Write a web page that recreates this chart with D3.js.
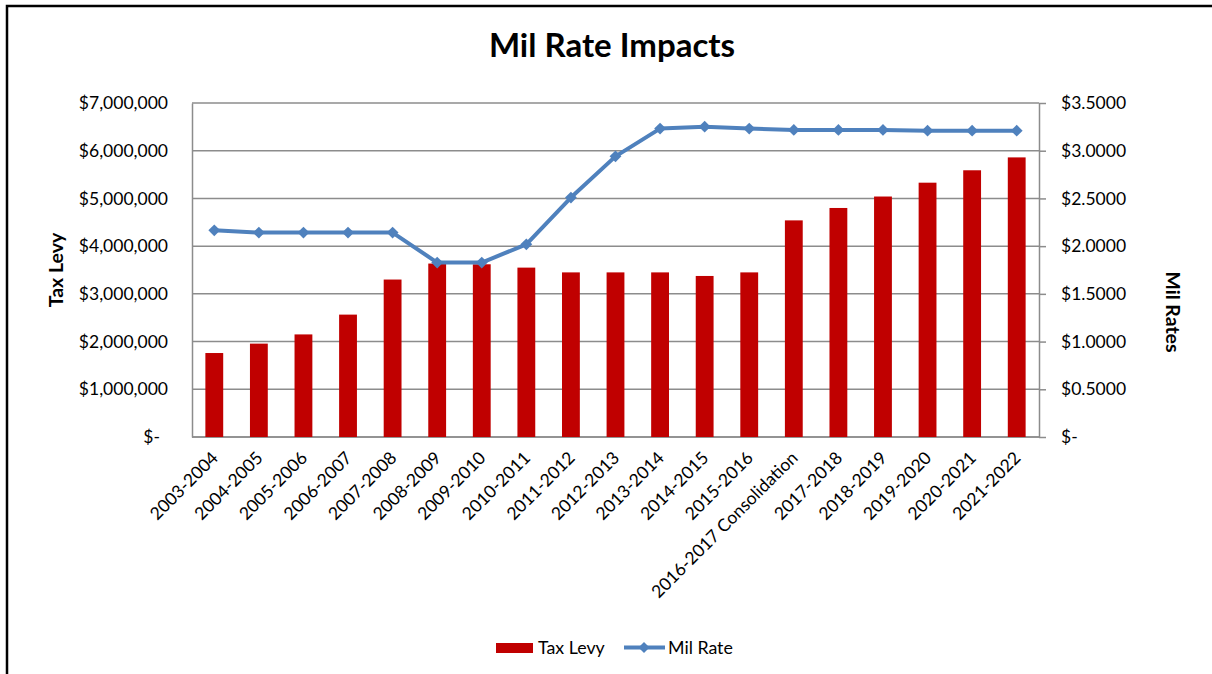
<!DOCTYPE html>
<html>
<head>
<meta charset="utf-8">
<script src="https://cdn.jsdelivr.net/npm/d3@7/dist/d3.min.js"></script>
<style>
  html, body { margin: 0; padding: 0; background: #fff; }
  svg { display: block; }
  text { font-family: Lato, "Open Sans", "Liberation Sans", sans-serif; fill: #000; }
</style>
</head>
<body>
<svg id="chart" width="1212" height="674"></svg>
<script>
// Fiscal years
const categories = [
  "2003-2004", "2004-2005", "2005-2006", "2006-2007", "2007-2008",
  "2008-2009", "2009-2010", "2010-2011", "2011-2012", "2012-2013",
  "2013-2014", "2014-2015", "2015-2016", "2016-2017 Consolidation",
  "2017-2018", "2018-2019", "2019-2020", "2020-2021", "2021-2022"
];

// Tax levy per year (dollars)
const taxLevy = [
  1760000, 1957000, 2150000, 2565000, 3300000,
  3635000, 3620000, 3550000, 3450000, 3450000,
  3450000, 3375000, 3450000, 4540000,
  4800000, 5040000, 5330000, 5590000, 5860000
];

// Mil rate per year (dollars)
const milRate = [
  2.166, 2.142, 2.142, 2.142, 2.142,
  1.828, 1.828, 2.019, 2.509, 2.941,
  3.232, 3.252, 3.232, 3.218,
  3.218, 3.218, 3.210, 3.210, 3.210
];

const levyTicks = [0, 1000000, 2000000, 3000000, 4000000, 5000000, 6000000, 7000000];
const levyTickLabels = ["$-", "$1,000,000", "$2,000,000", "$3,000,000", "$4,000,000", "$5,000,000", "$6,000,000", "$7,000,000"];
const rateTicks = [0, 0.5, 1, 1.5, 2, 2.5, 3, 3.5];
const rateTickLabels = ["$-", "$0.5000", "$1.0000", "$1.5000", "$2.0000", "$2.5000", "$3.0000", "$3.5000"];

const barColor = "#C00000";
const lineColor = "#4F81BD";
const gridColor = "#8C8C8C";
const tickFont = 17.5;

const svg = d3.select("#chart");

// Outer frame
svg.append("rect")
  .attr("x", 7).attr("y", 6)
  .attr("width", 1240).attr("height", 700)
  .attr("fill", "#fff")
  .attr("stroke", "#000")
  .attr("stroke-width", 2.5);

const plot = { left: 192, right: 1039, top: 103, bottom: 437 };

const x = d3.scaleBand()
  .domain(categories)
  .range([plot.left, plot.right])
  .paddingInner(0.6)
  .paddingOuter(0.3);

const yLevy = d3.scaleLinear().domain([0, 7000000]).range([plot.bottom, plot.top]);
const yRate = d3.scaleLinear().domain([0, 3.5]).range([plot.bottom, plot.top]);

// Title
svg.append("text")
  .attr("x", 612).attr("y", 57)
  .attr("text-anchor", "middle")
  .attr("font-size", 33)
  .attr("font-weight", "bold")
  .text("Mil Rate Impacts");

// Gridlines
svg.append("g")
  .selectAll("line")
  .data(levyTicks)
  .join("line")
  .attr("x1", plot.left).attr("x2", plot.right)
  .attr("y1", d => yLevy(d)).attr("y2", d => yLevy(d))
  .attr("stroke", gridColor)
  .attr("stroke-width", 1.5);

// Left axis
const leftAxis = d3.axisLeft(yLevy)
  .tickValues(levyTicks)
  .tickSize(0)
  .tickPadding(24)
  .tickFormat((d, i) => levyTickLabels[i]);
const gl = svg.append("g").attr("transform", `translate(${plot.left},0)`).call(leftAxis);
gl.select(".domain").attr("stroke", gridColor).attr("stroke-width", 1.5);
gl.selectAll(".tick text")
  .attr("font-size", tickFont)
  .attr("font-family", "Lato, 'Open Sans', sans-serif")
  .attr("fill", "#000")
  .attr("dx", d => d === 0 ? -8 : 0);

// Right axis
const rightAxis = d3.axisRight(yRate)
  .tickValues(rateTicks)
  .tickSizeInner(7)
  .tickSizeOuter(0)
  .tickPadding(15)
  .tickFormat((d, i) => rateTickLabels[i]);
const gr = svg.append("g").attr("transform", `translate(${plot.right},0)`).call(rightAxis);
gr.select(".domain").attr("stroke", gridColor).attr("stroke-width", 1.5);
gr.selectAll(".tick line").attr("stroke", gridColor).attr("stroke-width", 1.5);
gr.selectAll(".tick text")
  .attr("font-size", tickFont)
  .attr("font-family", "Lato, 'Open Sans', sans-serif")
  .attr("fill", "#000");

// Bottom axis line
svg.append("line")
  .attr("x1", plot.left).attr("x2", plot.right)
  .attr("y1", plot.bottom).attr("y2", plot.bottom)
  .attr("stroke", gridColor).attr("stroke-width", 1.5);

// Category labels
svg.append("g")
  .selectAll("text")
  .data(categories)
  .join("text")
  .attr("transform", d => `translate(${x(d) + x.bandwidth() / 2 + 5},${plot.bottom + 22}) rotate(-45)`)
  .attr("text-anchor", "end")
  .attr("font-size", tickFont)
  .text(d => d);

// Tax levy bars
svg.append("g")
  .selectAll("rect")
  .data(taxLevy)
  .join("rect")
  .attr("x", (d, i) => x(categories[i]))
  .attr("width", x.bandwidth())
  .attr("y", d => yLevy(d))
  .attr("height", d => plot.bottom - yLevy(d))
  .attr("fill", barColor);

// Mil rate line
const cx = i => x(categories[i]) + x.bandwidth() / 2;
const line = d3.line()
  .x((d, i) => cx(i))
  .y(d => yRate(d));
svg.append("path")
  .datum(milRate)
  .attr("d", line)
  .attr("fill", "none")
  .attr("stroke", lineColor)
  .attr("stroke-width", 4)
  .attr("stroke-linejoin", "round");

svg.append("g")
  .selectAll("path")
  .data(milRate)
  .join("path")
  .attr("transform", (d, i) => `translate(${cx(i)},${yRate(d)}) rotate(45)`)
  .attr("d", d3.symbol().type(d3.symbolSquare).size(70))
  .attr("fill", lineColor);

// Axis titles
svg.append("text")
  .attr("transform", "translate(63,270) rotate(-90)")
  .attr("text-anchor", "middle")
  .attr("font-size", 19.5)
  .attr("font-weight", "bold")
  .text("Tax Levy");

svg.append("text")
  .attr("transform", "translate(1166,312) rotate(90)")
  .attr("text-anchor", "middle")
  .attr("font-size", 19.5)
  .attr("font-weight", "bold")
  .text("Mil Rates");

// Legend
const legend = svg.append("g");
legend.append("rect")
  .attr("x", 496).attr("y", 643)
  .attr("width", 37).attr("height", 10)
  .attr("fill", barColor);
legend.append("text")
  .attr("x", 538).attr("y", 654)
  .attr("font-size", 17.8)
  .text("Tax Levy");
legend.append("line")
  .attr("x1", 624).attr("x2", 665)
  .attr("y1", 647.5).attr("y2", 647.5)
  .attr("stroke", lineColor).attr("stroke-width", 4);
legend.append("path")
  .attr("transform", "translate(644,647.5) rotate(45)")
  .attr("d", d3.symbol().type(d3.symbolSquare).size(60))
  .attr("fill", lineColor);
legend.append("text")
  .attr("x", 668).attr("y", 654)
  .attr("font-size", 17.8)
  .text("Mil Rate");
</script>
</body>
</html>
